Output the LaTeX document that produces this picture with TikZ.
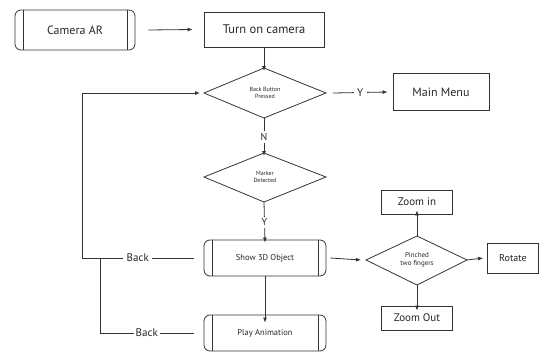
\documentclass[tikz,border=0pt]{standalone}
\usepackage{fontspec}
\setmainfont{PT Sans}
\usetikzlibrary{arrows.meta}
\begin{document}
\begin{tikzpicture}[x=1pt,y=-1pt,>={Latex[length=5pt,width=4pt]},
  draw=black!80,line width=0.8pt,
  box/.style={draw,inner sep=0pt,text=black!85},
  proc/.style={box,rounded corners=6pt},
  lbl/.style={fill=white,inner sep=3.5pt,text=black!85}]
\useasboundingbox (0,0) rectangle (540,351);
% start and plain steps
\node[proc,minimum width=120pt,minimum height=40pt,font=\fontsize{12}{14}\selectfont] (cam) at (75,30) {Camera AR};
\node[box,minimum width=120pt,minimum height=35pt,font=\fontsize{12.5}{14}\selectfont] (turn) at (264,29.5) {Turn on camera};
\node[box,minimum width=96pt,minimum height=37pt,font=\fontsize{12}{14}\selectfont] (menu) at (441,92) {Main Menu};
% the two questions
\draw (204,93) -- (264,68) -- (326,93) -- (264,118) -- cycle;
\node[align=center,text=black!85,font=\fontsize{6}{7}\selectfont] (back) at (265,93) {Back Button\\Pressed};
\draw (204,177) -- (264,153) -- (326,177) -- (264,202) -- cycle;
\node[align=center,text=black!85,font=\fontsize{6}{7}\selectfont] (mark) at (265,177) {Marker\\Detected};
\coordinate (backW) at (204,93); \coordinate (backE) at (326,93);
\coordinate (backS) at (264,118); \coordinate (backN) at (264,68);
\coordinate (markN) at (264,153); \coordinate (markS) at (264,202);
% object steps
\node[proc,minimum width=122pt,minimum height=36pt,font=\fontsize{8.5}{10}\selectfont] (show) at (265,258) {Show 3D Object};
\node[proc,minimum width=122pt,minimum height=36pt,font=\fontsize{8.5}{10}\selectfont] (play) at (265,333) {Play Animation};
\foreach \n in {cam,show,play}{
  \draw ([xshift=9pt]\n.north west) -- ([xshift=9pt]\n.south west);
  \draw ([xshift=-8pt]\n.north east) -- ([xshift=-8pt]\n.south east);
}
% gesture
\draw (366,260) -- (417,236) -- (467,260) -- (417,285) -- cycle;
\node[align=center,text=black!85,font=\fontsize{7}{8}\selectfont] (pinch) at (417,260) {Pinched\\two fingers};
\coordinate (pinchW) at (366,260); \coordinate (pinchE) at (467,260);
\coordinate (pinchN) at (417,236); \coordinate (pinchS) at (417,285);
\node[box,minimum width=71pt,minimum height=24pt,font=\fontsize{11}{13}\selectfont] (zin) at (417,202) {Zoom in};
\node[box,minimum width=71pt,minimum height=24pt,font=\fontsize{11}{13}\selectfont] (zout) at (417,318) {Zoom Out};
\node[box,minimum width=51pt,minimum height=30pt,font=\fontsize{10}{12}\selectfont] (rot) at (513,258) {Rotate};
% connectors
\draw[->] ([xshift=13pt]cam.east) -- ([xshift=-11pt]turn.west);
\draw[->] (turn.south) -- ([yshift=-3pt]backN);
\draw[->] ([xshift=7pt]backE) -- node[lbl,font=\fontsize{11}{13}\selectfont]{Y} ([xshift=-5pt]menu.west);
\draw[->] (backS) -- node[lbl,inner sep=2pt,font=\fontsize{10}{12}\selectfont]{N} ([yshift=-3pt]markN);
\draw[->] (markS) -- node[lbl,inner sep=2pt,font=\fontsize{10}{12}\selectfont]{Y} ([yshift=-3pt]show.north);
\draw[->] (show.south) -- ([yshift=-8pt]play.north);
\draw[->] ([xshift=4pt]show.east) -- ([xshift=-5pt]pinchW);
\draw[->] (pinchE) -- ([xshift=-4pt]rot.west);
\draw[->] (pinchN) -- ([yshift=4pt]zin.south);
\draw[->] (pinchS) -- ([yshift=-5pt]zout.north);
% going back
\coordinate (up) at (82,258);
\coordinate (low) at (100,258);
\draw ([xshift=-10pt]show.west) -- node[lbl,pos=0.5,font=\fontsize{11}{13}\selectfont]{Back} (up);
\draw[->] (up) |- ([xshift=-4pt]backW);
\draw ([xshift=-10pt]play.west) -- node[lbl,pos=0.5,inner sep=2pt,font=\fontsize{11}{13}\selectfont]{Back} (low |- play.west) -- (low);
\end{tikzpicture}
\end{document}
